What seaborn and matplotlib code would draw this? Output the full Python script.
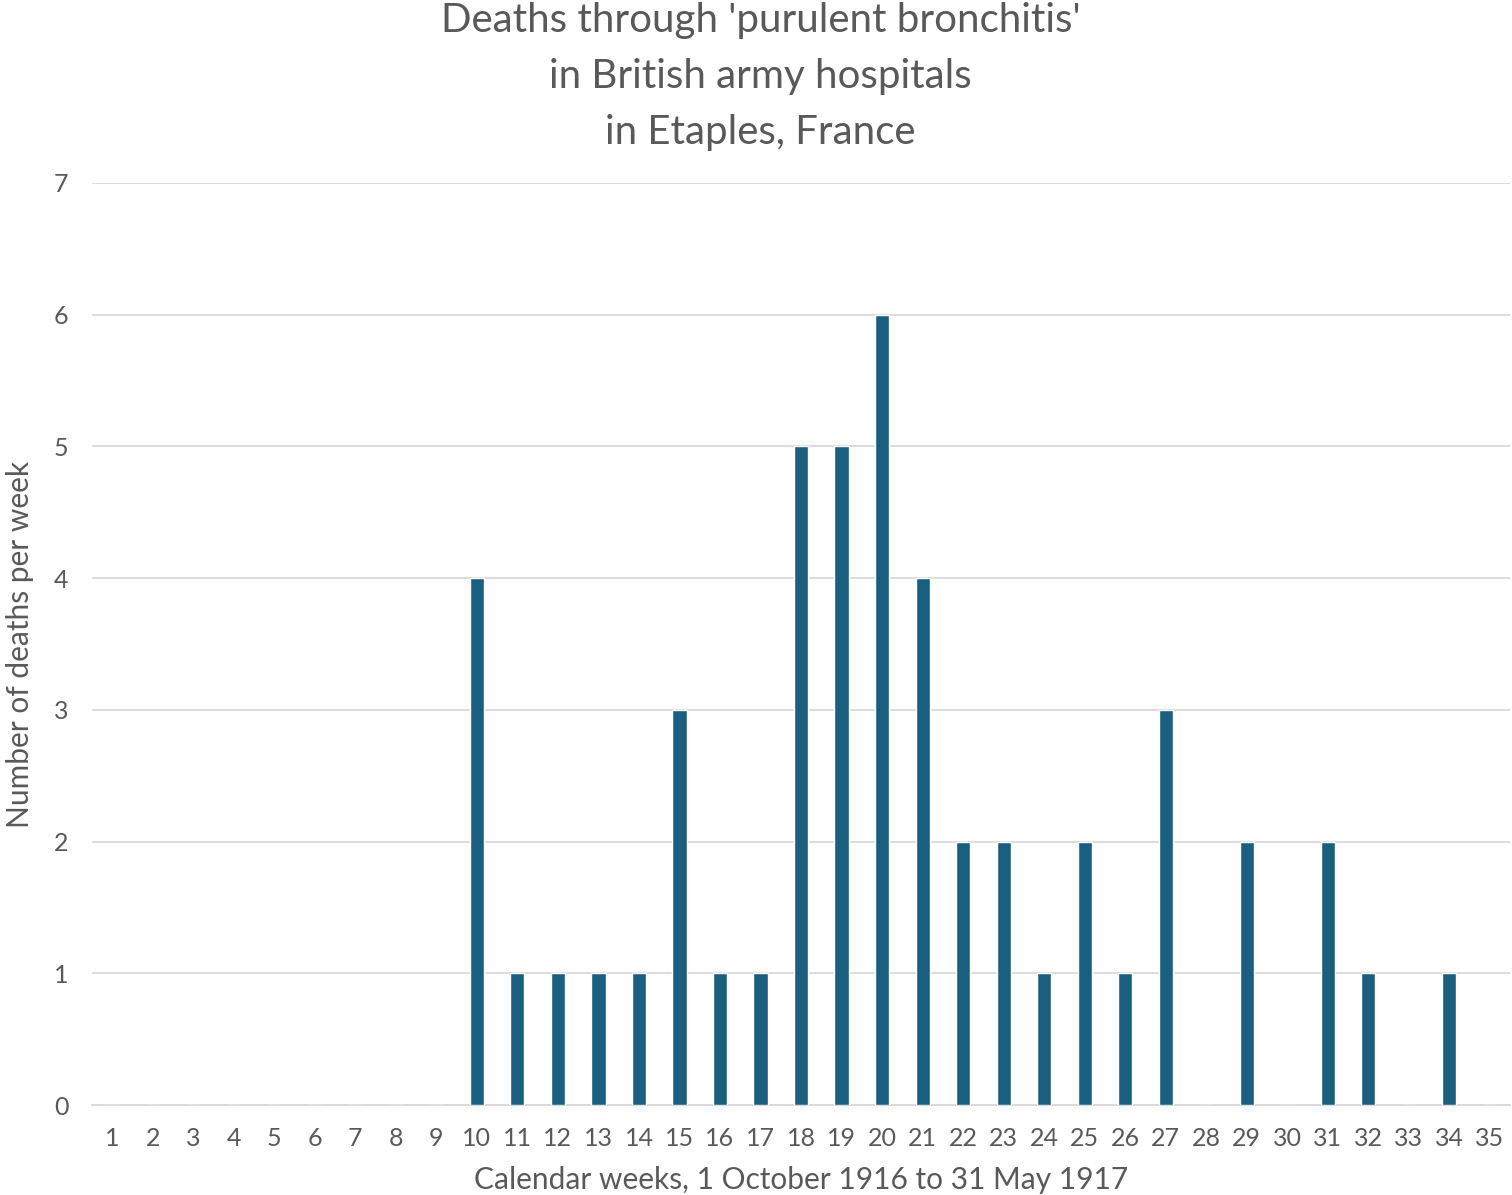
import matplotlib
matplotlib.use('Agg')
import matplotlib.pyplot as plt
import seaborn as sns
import pandas as pd

# data
weeks = [str(i) for i in range(1, 36)]
deaths = [0, 0, 0, 0, 0, 0, 0, 0, 0, 4,
          1, 1, 1, 1, 3, 1, 1, 5, 5, 6,
          4, 2, 2, 1, 2, 1, 3, 0, 2, 0,
          2, 1, 0, 1, 0]

df = pd.DataFrame({'week': weeks, 'deaths': deaths})

sns.set_style('white')
plt.rcParams['font.family'] = ['Lato', 'DejaVu Sans']
grey = '#595959'

fig = plt.figure(figsize=(15.12, 11.95), dpi=100)
ax = fig.add_axes([0.0608, 0.0753, 0.9380, 0.7716])

sns.barplot(data=df, x='week', y='deaths', color='#1B5F80', width=0.35,
            saturation=1, ax=ax, zorder=3)

ax.set_ylim(0, 7)
ax.set_xlim(-0.5, 34.5)
ax.set_yticks(range(0, 8))
ax.yaxis.grid(True, color='#D9D9D9', linewidth=1.3, zorder=0)
for s in ['top', 'right', 'left']:
    ax.spines[s].set_visible(False)
ax.spines['bottom'].set_color('#D9D9D9')
ax.spines['bottom'].set_linewidth(1.3)
ax.tick_params(axis='both', length=0, labelsize=18, colors=grey)
ax.tick_params(axis='x', pad=16)
ax.tick_params(axis='y', pad=17)

ax.set_xlabel('Calendar weeks, 1 October 1916 to 31 May 1917', fontsize=21.5, color=grey, labelpad=11)
ax.set_ylabel('Number of deaths per week', fontsize=21.5, color=grey, labelpad=14)
fig.text(0.503, 0.998, "Deaths through 'purulent bronchitis'\nin British army hospitals\nin Etaples, France",
         ha='center', va='top', fontsize=29, color=grey, linespacing=1.62)

fig.savefig('out.png', dpi=100)
